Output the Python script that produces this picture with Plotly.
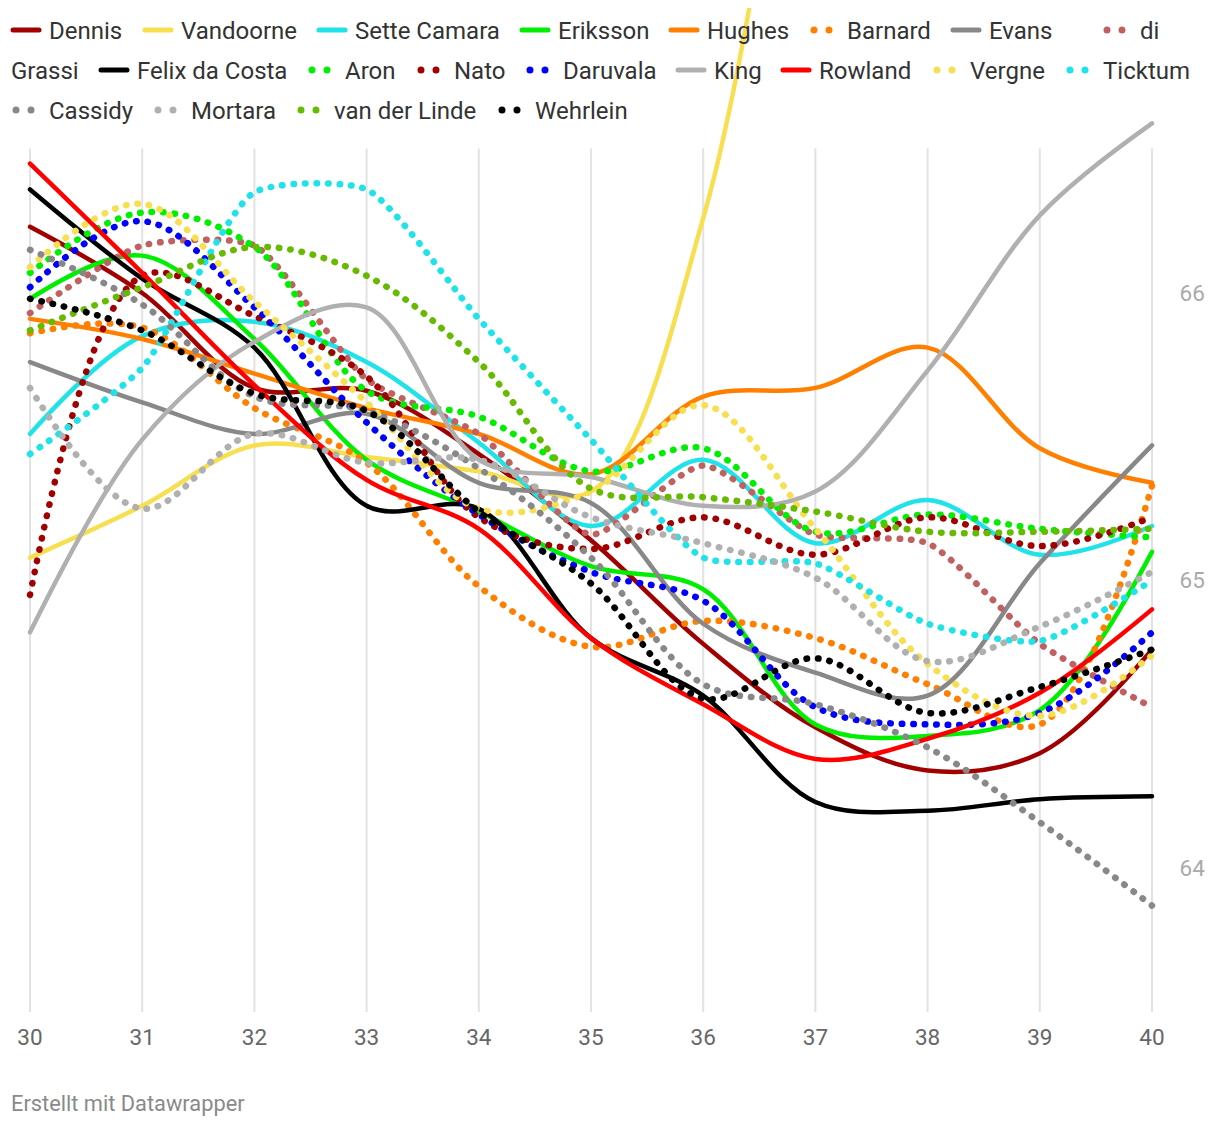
import plotly.graph_objects as go

laps = [30, 31, 32, 33, 34, 35, 36, 37, 38, 39, 40]

dennis        = [66.23, 66.00, 65.67, 65.66, 65.44, 65.14, 64.78, 64.49, 64.34, 64.40, 64.76]
vandoorne     = [65.08, 65.26, 65.47, 65.43, 65.38, 65.31, 66.26, 68.50, None, None, None]
sette_camara  = [65.51, 65.85, 65.90, 65.76, 65.48, 65.19, 65.42, 65.13, 65.28, 65.09, 65.19]
eriksson      = [65.98, 66.13, 65.84, 65.42, 65.24, 65.05, 64.97, 64.50, 64.46, 64.55, 65.10]
hughes        = [65.91, 65.84, 65.72, 65.60, 65.51, 65.37, 65.64, 65.67, 65.81, 65.46, 65.34]
barnard       = [65.86, 65.88, 65.60, 65.41, 64.98, 64.77, 64.86, 64.80, 64.64, 64.50, 65.33]
evans         = [65.76, 65.62, 65.51, 65.58, 65.34, 65.27, 64.85, 64.68, 64.60, 65.06, 65.47]
di_grassi     = [65.93, 66.165, 66.165, 65.70, 65.51, 65.16, 65.40, 65.16, 65.13, 64.78, 64.56]
felix         = [66.36, 66.05, 65.81, 65.26, 65.25, 64.80, 64.60, 64.23, 64.20, 64.24, 64.25]
aron          = [66.07, 66.28, 66.16, 65.66, 65.57, 65.38, 65.46, 65.17, 65.23, 65.18, 65.15]
nato          = [64.95, 66.06, 65.92, 65.71, 65.22, 65.11, 65.22, 65.09, 65.22, 65.12, 65.22]
daruvala      = [66.02, 66.25, 65.95, 65.55, 65.23, 65.03, 64.93, 64.56, 64.50, 64.54, 64.82]
king          = [64.82, 65.49, 65.83, 65.95, 65.42, 65.36, 65.26, 65.31, 65.73, 66.27, 66.59]
rowland       = [66.45, 66.07, 65.68, 65.35, 65.18, 64.80, 64.57, 64.38, 64.45, 64.61, 64.90]
vergne        = [66.09, 66.31, 65.97, 65.62, 65.25, 65.31, 65.61, 65.18, 64.71, 64.53, 64.74]
ticktum       = [65.44, 65.74, 66.35, 66.36, 65.91, 65.49, 65.08, 65.06, 64.85, 64.79, 65.00]
cassidy       = [66.15, 65.96, 65.64, 65.59, 65.39, 65.08, 64.64, 64.57, 64.42, 64.16, 63.87]
mortara       = [65.67, 65.25, 65.51, 65.41, 65.42, 65.22, 65.13, 65.01, 64.72, 64.84, 65.03]
van_der_linde = [65.87, 66.02, 66.16, 66.06, 65.76, 65.32, 65.29, 65.24, 65.17, 65.17, 65.18]
wehrlein      = [65.98, 65.87, 65.65, 65.59, 65.24, 64.99, 64.59, 64.73, 64.54, 64.63, 64.76]

y_ticks = [64, 65, 66]
x_ticks = laps

names  = ["Dennis", "Vandoorne", "Sette Camara", "Eriksson", "Hughes", "Barnard", "Evans",
          "di Grassi", "Felix da Costa", "Aron", "Nato", "Daruvala", "King", "Rowland",
          "Vergne", "Ticktum", "Cassidy", "Mortara", "van der Linde", "Wehrlein"]
values = [dennis, vandoorne, sette_camara, eriksson, hughes, barnard, evans, di_grassi,
          felix, aron, nato, daruvala, king, rowland, vergne, ticktum, cassidy, mortara,
          van_der_linde, wehrlein]
colors = ["#a00000", "#f7df50", "#1fe3e8", "#00ee00", "#ff8000", "#ff8000", "#888888",
          "#c06060", "#000000", "#00ee00", "#a00000", "#0000ff", "#b0b0b0", "#ff0000",
          "#f7df50", "#1fe3e8", "#888888", "#b0b0b0", "#66bb00", "#000000"]
styles = ["solid", "solid", "solid", "solid", "solid", "dot", "solid", "dot", "solid", "dot",
          "dot", "dot", "solid", "solid", "dot", "dot", "dot", "dot", "dot", "dot"]
smooth = {"di Grassi": 0.6, "Ticktum": 0.6}

fig = go.Figure()
for name, vals, color, style in zip(names, values, colors, styles):
    sm = smooth.get(name, 1.0)
    if style == "solid":
        line = dict(color=color, width=4.5, shape="spline", smoothing=sm)
    else:
        line = dict(color=color, width=6.5, shape="spline", smoothing=sm, dash="0.5px,11px")
    fig.add_trace(go.Scatter(x=laps, y=vals, name=name, mode="lines", line=line,
                             hoverinfo="skip", showlegend=False))

# ---- page-pixel helpers (figure sits at an 8px body offset) ----
FIG_W, FIG_H = 1204, 1110
PL, PR, PT, PB = 10, 1172, 8, 1012   # plot area in page pixels


def pxx(x):
    return (x - PL) / (PR - PL)


def pxy(y):
    return (PB - y) / (PB - PT)


# vertical gridlines
for xv in x_ticks:
    fig.add_shape(type="line", xref="x", yref="y", x0=xv, x1=xv, y0=63.5, y1=66.5,
                  line=dict(color="#e2e2e2", width=2), layer="below")

# ---- legend (flowing, Datawrapper style) ----
# (label, series index or None, row y, label x)
legend_items = [
    ("Dennis", 0, 30, 48), ("Vandoorne", 1, 30, 180), ("Sette Camara", 2, 30, 354),
    ("Eriksson", 3, 30, 557), ("Hughes", 4, 30, 706), ("Barnard", 5, 30, 846),
    ("Evans", 6, 30, 988), ("di", 7, 30, 1139),
    ("Grassi", None, 70, 10), ("Felix da Costa", 8, 70, 136), ("Aron", 9, 70, 344),
    ("Nato", 10, 70, 453), ("Daruvala", 11, 70, 562), ("King", 12, 70, 713),
    ("Rowland", 13, 70, 818), ("Vergne", 14, 70, 969), ("Ticktum", 15, 70, 1102),
    ("Cassidy", 16, 110, 48), ("Mortara", 17, 110, 190), ("van der Linde", 18, 110, 333),
    ("Wehrlein", 19, 110, 534),
]
for label, idx, ry, tx in legend_items:
    fig.add_annotation(text=label, xref="paper", yref="paper", x=pxx(tx - 1), y=pxy(ry + 1),
                       xanchor="left", yanchor="middle", showarrow=False,
                       font=dict(family="Roboto", size=24, color="#333333"))
    if idx is None:
        continue
    c = colors[idx]
    if styles[idx] == "solid":
        fig.add_shape(type="line", xref="paper", yref="paper",
                      x0=pxx(tx - 35), x1=pxx(tx - 9), y0=pxy(ry), y1=pxy(ry),
                      line=dict(color=c, width=5), layer="above")
    else:
        for cx in (tx - 32, tx - 17):
            fig.add_shape(type="circle", xref="paper", yref="paper",
                          x0=pxx(cx - 3.5), x1=pxx(cx + 3.5), y0=pxy(ry + 3.5), y1=pxy(ry - 3.5),
                          fillcolor=c, line=dict(width=0), layer="above")

fig.add_annotation(text="Erstellt mit Datawrapper", xref="paper", yref="paper",
                   x=pxx(9), y=pxy(1103), xanchor="left", yanchor="middle", showarrow=False,
                   font=dict(family="Roboto", size=21.8, color="#8a8a8a"))

fig.update_layout(
    width=FIG_W, height=FIG_H,
    margin=dict(l=PL - 8, r=FIG_W - (PR - 8), t=PT - 8, b=FIG_H - (PB - 8)),
    paper_bgcolor="white", plot_bgcolor="rgba(0,0,0,0)",
    font=dict(family="Roboto", color="#333333"),
    showlegend=False,
    xaxis=dict(range=[29.8217, 40.1783], tickvals=x_ticks, showgrid=False, zeroline=False,
               showline=False, ticks="outside", ticklen=5, tickcolor="rgba(0,0,0,0)",
               tickfont=dict(family="Roboto", size=22.5, color="#666666")),
    yaxis=dict(range=[63.5, 66.991], side="right", tickvals=y_ticks, showgrid=False,
               zeroline=False, showline=False, ticks="outside", ticklen=2,
               tickcolor="rgba(0,0,0,0)",
               tickfont=dict(family="Roboto", size=22.5, color="#aaaaaa")),
)

post = """
var gd = document.getElementById('{plot_id}');
function roundCaps(){
  gd.querySelectorAll('path.js-line').forEach(function(p){
    p.style.strokeLinecap = 'round'; p.style.strokeLinejoin = 'round';
  });
  gd.querySelectorAll('.shapelayer path').forEach(function(p){
    p.style.strokeLinecap = 'round';
  });
}
roundCaps();
gd.on('plotly_afterplot', roundCaps);
"""

fig.write_html("out.html", post_script=post)
